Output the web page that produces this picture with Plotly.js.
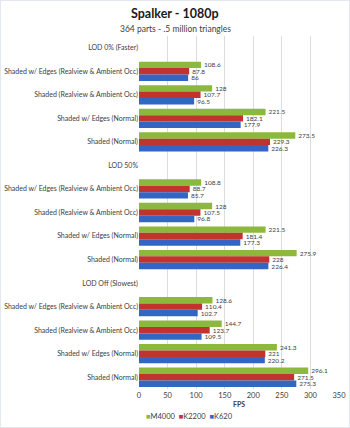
<!DOCTYPE html>
<html>
<head>
<meta charset="utf-8">
<script src="https://cdn.plot.ly/plotly-3.0.1.min.js"></script>
<style>
html,body{margin:0;padding:0;background:#fff;}
#wrap{position:relative;width:350px;height:428px;}
#chart{width:350px;height:428px;}
#frame{position:absolute;left:0;top:0;width:350px;height:428px;box-sizing:border-box;border:1px solid #e3e8ee;pointer-events:none;}
</style>
</head>
<body>
<div id="wrap"><div id="chart"></div><div id="frame"></div></div>
<script>
var categories = [
  "LOD 0% (Faster)",
  "Shaded w/ Edges (Realview & Ambient Occ)",
  "Shaded (Realview & Ambient Occ)",
  "Shaded w/ Edges (Normal)",
  "Shaded (Normal)",
  "LOD 50%",
  "Shaded w/ Edges (Realview & Ambient Occ)",
  "Shaded (Realview & Ambient Occ)",
  "Shaded w/ Edges (Normal)",
  "Shaded (Normal)",
  "LOD Off (Slowest)",
  "Shaded w/ Edges (Realview & Ambient Occ)",
  "Shaded (Realview & Ambient Occ)",
  "Shaded w/ Edges (Normal)",
  "Shaded (Normal)"
];
var m4000 = [null, 108.6, 128, 221.5, 273.5, null, 108.8, 128, 221.5, 275.9, null, 128.6, 144.7, 241.3, 296.1];
var k2200 = [null, 87.8, 107.7, 182.1, 229.3, null, 88.7, 107.5, 181.4, 228, null, 110.4, 123.7, 221, 271.5];
var k620  = [null, 86, 96.5, 177.9, 226.3, null, 85.7, 96.8, 177.3, 226.4, null, 102.7, 109.5, 220.2, 275.3];
var seriesNames = ["M4000", "K2200", "K620"];
var colors = ["#8cb83e", "#c0332f", "#3366c2"];
var xTicks = [0, 50, 100, 150, 200, 250, 300, 350];

var pos = categories.map(function(_, i){ return i; });
function fmt(arr){ return arr.map(function(v){ return v === null ? "" : String(v); }); }

var data = [m4000, k2200, k620].map(function(vals, k){
  return {
    type: "bar",
    orientation: "h",
    name: seriesNames[k],
    x: vals,
    y: pos,
    text: fmt(vals),
    textposition: "outside",
    constraintext: "none",
    textfont: {size: 6.5, color: "#404040", family: "Lato, 'Open Sans', sans-serif"},
    cliponaxis: false,
    marker: {color: colors[k]},
    hoverinfo: "x+name",
    showlegend: false
  };
});

var legendText = seriesNames.map(function(n, k){
  return "<span style='color:" + colors[k] + "'>■</span>" + n;
}).join("  ");

var layout = {
  width: 350,
  height: 428,
  margin: {l: 139, r: 11, t: 36, b: 39},
  paper_bgcolor: "rgba(0,0,0,0)",
  plot_bgcolor: "#ffffff",
  font: {family: "Lato, 'Open Sans', sans-serif", color: "#404040", size: 8},
  barmode: "group",
  bargap: 0.18,
  bargroupgap: 0,
  showlegend: false,
  xaxis: {
    range: [0, 350],
    tickvals: xTicks,
    ticktext: xTicks.map(String),
    showgrid: true,
    gridcolor: "#dcdcdc",
    gridwidth: 1,
    zeroline: false,
    showline: false,
    ticks: "",
    tickfont: {size: 7.5, color: "#404040"},
    title: {text: "<b>FPS</b>", font: {size: 7, color: "#404040"}, standoff: 3},
    fixedrange: true
  },
  yaxis: {
    range: [14.5, -0.5],
    tickvals: pos,
    ticktext: categories,
    showgrid: false,
    zeroline: false,
    showline: false,
    ticks: "",
    ticklen: 0,
    tickfont: {size: 7, color: "#404040"},
    automargin: false,
    fixedrange: true
  },
  annotations: [
    {text: "<b>Spalker - 1080p</b>", xref: "paper", yref: "paper", x: 0.18, y: 1, yshift: 23,
     xanchor: "center", yanchor: "middle", showarrow: false, font: {size: 12.5, color: "#1a1a1a"}},
    {text: "364 parts - .5 million triangles", xref: "paper", yref: "paper", x: 0.18, y: 1, yshift: 7,
     xanchor: "center", yanchor: "middle", showarrow: false, font: {size: 8.5, color: "#404040"}},
    {text: legendText, xref: "paper", yref: "paper", x: 0, xshift: 5, y: 0, yshift: -27,
     xanchor: "left", yanchor: "middle", showarrow: false, font: {size: 7.5, color: "#404040"}}
  ]
};

Plotly.newPlot("chart", data, layout, {displayModeBar: false, staticPlot: true});
</script>
</body>
</html>
